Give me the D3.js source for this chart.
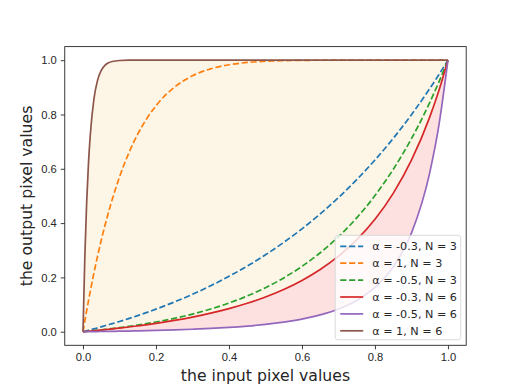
<!DOCTYPE html>
<html>
<head>
<meta charset="utf-8">
<script src="https://cdn.jsdelivr.net/npm/d3@7"></script>
<style>
  body { margin: 0; background: #fff; }
  svg { font-family: "DejaVu Sans", sans-serif; }
</style>
</head>
<body>
<div id="wrapper"></div>
<script>
// input pixel values (x) shared by every curve
const inputs = [0, 0.005, 0.01, 0.015, 0.02, 0.03, 0.04, 0.05, 0.06, 0.07, 0.08, 0.1, 0.125, 0.15,
  0.2, 0.25, 0.3, 0.35, 0.4, 0.45, 0.5, 0.55, 0.6, 0.65, 0.7, 0.75, 0.8, 0.85, 0.9, 0.95, 0.975, 1]

// output values read for each curve
const a03n3 = [0, 0.0017, 0.0035, 0.0052, 0.0070, 0.0106, 0.0142, 0.0180, 0.0218, 0.0257, 0.0296, 0.0377, 0.0483, 0.0594,
  0.0832, 0.1093, 0.1379, 0.1694, 0.2039, 0.2417, 0.2833, 0.3289, 0.3789, 0.4338, 0.4940, 0.5601, 0.6326, 0.7121, 0.7994, 0.8951, 0.9463, 1]
const a1n3 = [0, 0.0393, 0.0773, 0.1139, 0.1492, 0.2163, 0.2786, 0.3366, 0.3904, 0.4404, 0.4868, 0.5695, 0.6564, 0.7275,
  0.8322, 0.8999, 0.9424, 0.9681, 0.9832, 0.9916, 0.9961, 0.9983, 0.9993, 0.9998, 0.9999, 1, 1, 1, 1, 1, 1, 1]
const a05n3 = [0, 0.0006, 0.0013, 0.0019, 0.0026, 0.0040, 0.0054, 0.0068, 0.0083, 0.0099, 0.0115, 0.0149, 0.0195, 0.0245,
  0.0359, 0.0492, 0.0650, 0.0837, 0.1057, 0.1316, 0.1621, 0.1982, 0.2407, 0.2908, 0.3498, 0.4194, 0.5013, 0.5977, 0.7109, 0.8440, 0.9189, 1]
const a03n6 = [0, 0.0006, 0.0012, 0.0018, 0.0024, 0.0037, 0.0050, 0.0063, 0.0076, 0.0090, 0.0104, 0.0134, 0.0173, 0.0216,
  0.0309, 0.0416, 0.0540, 0.0684, 0.0851, 0.1048, 0.1281, 0.1557, 0.1889, 0.2291, 0.2781, 0.3386, 0.4141, 0.5095, 0.6316, 0.7904, 0.8877, 1]
const a05n6 = [0, 0.0001, 0.0002, 0.0002, 0.0003, 0.0005, 0.0007, 0.0009, 0.0011, 0.0013, 0.0015, 0.0019, 0.0025, 0.0032,
  0.0048, 0.0067, 0.0091, 0.0121, 0.0159, 0.0208, 0.0271, 0.0354, 0.0466, 0.0619, 0.0836, 0.1152, 0.1630, 0.2385, 0.3631, 0.5852, 0.7587, 1]
const a1n6 = [0, 0.2744, 0.4744, 0.6199, 0.7255, 0.8576, 0.9266, 0.9625, 0.9809, 0.9904, 0.9952, 0.9988, 0.9999, 1,
  1, 1, 1, 1, 1, 1, 1, 1, 1, 1, 1, 1, 1, 1, 1, 1, 1, 1]

const seriesNames = ["α = -0.3, N = 3", "α = 1, N = 3", "α = -0.5, N = 3",
  "α = -0.3, N = 6", "α = -0.5, N = 6", "α = 1, N = 6"]
const seriesValues = [a03n3, a1n3, a05n3, a03n6, a05n6, a1n6]
const seriesColors = ["#1f77b4", "#ff7f0e", "#2ca02c", "#d62728", "#9467bd", "#8c564b"]
const seriesDashed = [true, true, true, false, false, false]

const ticks = [0, 0.2, 0.4, 0.6, 0.8, 1.0]

let dimensions = {
  width: 518,
  height: 388,
  margin: { top: 46.6, right: 51.8, bottom: 42.7, left: 64.75 }
}
dimensions.boundedWidth = dimensions.width - dimensions.margin.left - dimensions.margin.right
dimensions.boundedHeight = dimensions.height - dimensions.margin.top - dimensions.margin.bottom

const wrapper = d3.select("#wrapper")
  .append("svg")
    .attr("width", dimensions.width)
    .attr("height", dimensions.height)

const bounds = wrapper.append("g")
  .attr("transform", `translate(${dimensions.margin.left},${dimensions.margin.top})`)

// Scales
const xScale = d3.scaleLinear()
  .domain([-0.05, 1.05])
  .range([0, dimensions.boundedWidth])
const yScale = d3.scaleLinear()
  .domain([-0.05, 1.05])
  .range([dimensions.boundedHeight, 0])

// Fills
const areaBetween = (lo, hi) => d3.area()
  .x((d, i) => xScale(inputs[i]))
  .y0((d, i) => yScale(lo[i]))
  .y1((d, i) => yScale(hi[i]))
  .curve(d3.curveMonotoneX)

bounds.append("path")
  .attr("d", areaBetween(a03n6, a1n6)(inputs))
  .attr("fill", "#fdf5e6")
bounds.append("path")
  .attr("d", areaBetween(a05n6, a03n6)(inputs))
  .attr("fill", "#fde1e1")

// Lines
const lineGenerator = vals => d3.line()
  .x((d, i) => xScale(inputs[i]))
  .y((d, i) => yScale(vals[i]))
  .curve(d3.curveMonotoneX)

seriesValues.forEach((vals, k) => {
  bounds.append("path")
    .attr("d", lineGenerator(vals)(inputs))
    .attr("fill", "none")
    .attr("stroke", seriesColors[k])
    .attr("stroke-width", 1.7)
    .attr("stroke-dasharray", seriesDashed[k] ? "6.2,2.7" : null)
})

// Axes
const fmt = d3.format(".1f")
const xAxis = bounds.append("g")
  .attr("transform", `translate(0,${dimensions.boundedHeight})`)
  .call(d3.axisBottom(xScale).tickValues(ticks).tickFormat(fmt).tickSize(4).tickPadding(4))
const yAxis = bounds.append("g")
  .call(d3.axisLeft(yScale).tickValues(ticks).tickFormat(fmt).tickSize(4).tickPadding(4))

;[xAxis, yAxis].forEach(ax => {
  ax.select(".domain").remove()
  ax.selectAll("text").style("font-size", "11.2px").attr("fill", "#262626")
  ax.selectAll("line").attr("stroke", "#262626").attr("stroke-width", 0.9)
})

// frame
bounds.append("rect")
  .attr("width", dimensions.boundedWidth)
  .attr("height", dimensions.boundedHeight)
  .attr("fill", "none")
  .attr("stroke", "#262626")
  .attr("stroke-width", 0.9)

// axis labels
wrapper.append("text")
  .attr("x", dimensions.margin.left + dimensions.boundedWidth / 2)
  .attr("y", 381)
  .attr("text-anchor", "middle")
  .style("font-size", "15.7px")
  .attr("fill", "#262626")
  .text("the input pixel values")
wrapper.append("text")
  .attr("transform", `translate(32,${dimensions.margin.top + dimensions.boundedHeight / 2}) rotate(-90)`)
  .attr("text-anchor", "middle")
  .style("font-size", "15.7px")
  .attr("fill", "#262626")
  .text("the output pixel values")

// Legend
const legend = bounds.append("g")
  .attr("transform", `translate(${dimensions.boundedWidth - 131},${dimensions.boundedHeight - 110})`)
legend.append("rect")
  .attr("width", 125.5)
  .attr("height", 104.5)
  .attr("rx", 2.5)
  .attr("fill", "rgba(255,255,255,0.8)")
  .attr("stroke", "#d6d6d6")
  .attr("stroke-width", 0.9)

seriesNames.forEach((name, k) => {
  const row = legend.append("g")
    .attr("transform", `translate(0,${11 + k * 16.9})`)
  row.append("line")
    .attr("x1", 5).attr("x2", 28)
    .attr("stroke", seriesColors[k])
    .attr("stroke-width", 1.7)
    .attr("stroke-dasharray", seriesDashed[k] ? "6.2,2.7" : null)
  row.append("text")
    .attr("x", 37)
    .attr("dy", "0.35em")
    .style("font-size", "11.2px")
    .attr("fill", "#262626")
    .text(name)
})
</script>
</body>
</html>
